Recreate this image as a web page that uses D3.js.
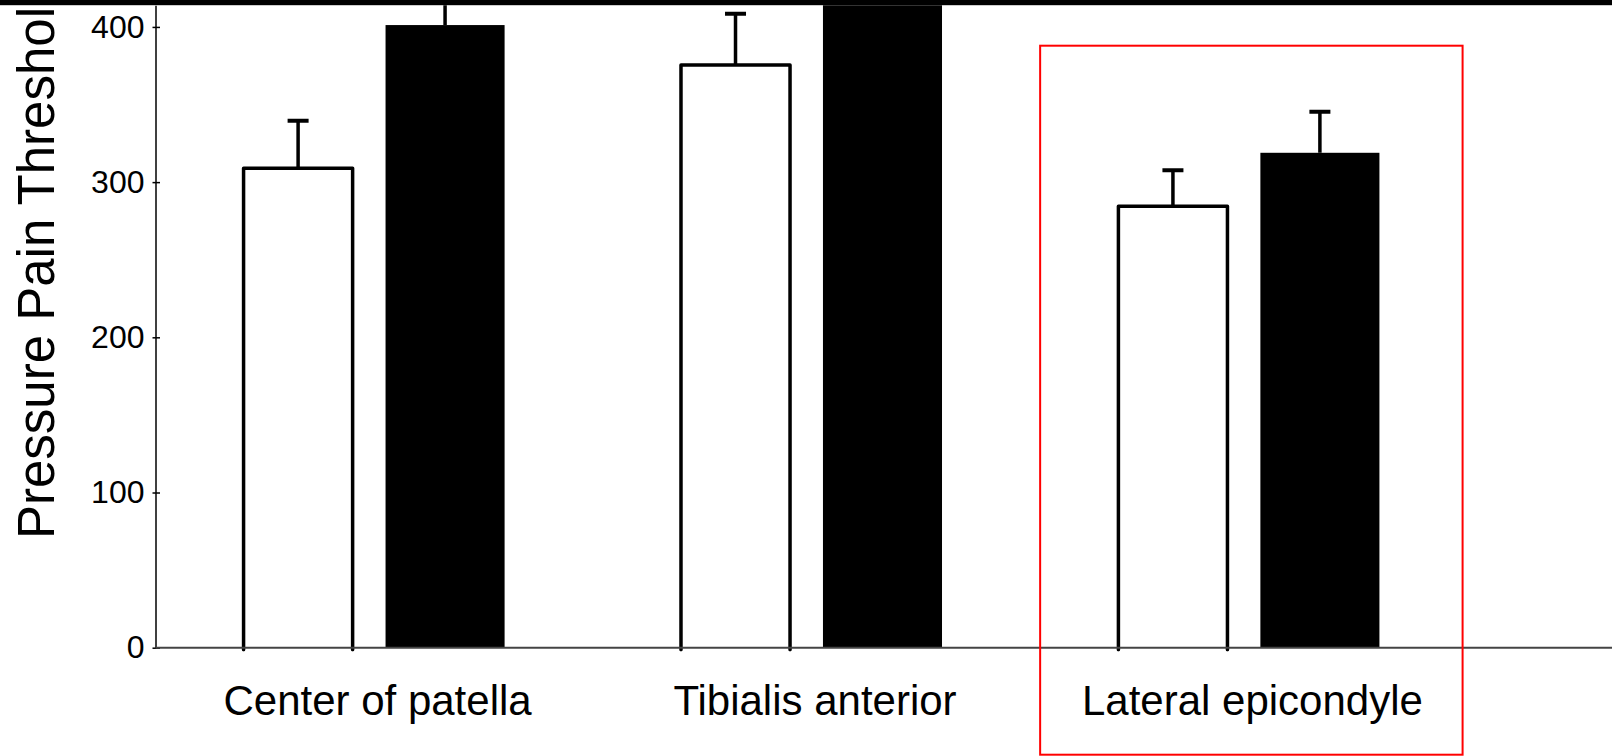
<!DOCTYPE html>
<html lang="en">
<head>
<meta charset="UTF-8">
<title>Pressure Pain Threshold</title>
<script src="https://d3js.org/d3.v7.min.js"></script>
<style>
  body { margin: 0; background: #fff; }
  svg { display: block; font-family: "Liberation Sans", Arial, sans-serif; }
</style>
</head>
<body>
<script>
// data (kPa)
const sites = ["Center of patella", "Tibialis anterior", "Lateral epicondyle"];
const groups = ["control", "patient"];
const controlMean = [309, 375.4, 284.4];
const controlSE = [30.6, 33.1, 23.2];
const patientMean = [401.2, 460, 318.9];
const patientSE = [30, 35, 26.5];
const yTicks = [0, 100, 200, 300, 400];
const yLabel = "Pressure Pain Threshold (kPa)";
const highlighted = "Lateral epicondyle";

const W = 1612, H = 756;
const axisX = 155.5;
const y0 = 647.7;

const svg = d3.select("body").append("svg")
    .attr("width", W)
    .attr("height", H);

// the figure is cropped at the top, the scale only reaches ~414
const y = d3.scaleLinear().domain([0, 414]).range([y0, 5.2]);

const x0 = d3.scaleBand()
    .domain(sites)
    .range([axisX, 1462.5])
    .paddingInner(0.328)
    .paddingOuter(0.158);

const x1 = d3.scaleBand()
    .domain(groups)
    .range([0, x0.bandwidth()])
    .paddingInner(0.19)
    .paddingOuter(0.095);

const rows = [];
sites.forEach((s, i) => {
    rows.push({ site: s, group: "control", mean: controlMean[i], se: controlSE[i] });
    rows.push({ site: s, group: "patient", mean: patientMean[i], se: patientSE[i] });
});

svg.append("defs").append("clipPath").attr("id", "plot")
    .append("rect")
    .attr("x", axisX).attr("y", y(414))
    .attr("width", W - axisX).attr("height", y0 - y(414) + 4);

const plot = svg.append("g").attr("clip-path", "url(#plot)");

const cx = d => x0(d.site) + x1(d.group) + x1.bandwidth() / 2;

// error bars (drawn first so the black bars cover the stems)
const eb = plot.selectAll("g.err").data(rows).enter().append("g").attr("class", "err");
eb.append("line")
    .attr("x1", cx).attr("x2", cx)
    .attr("y1", d => y(d.mean)).attr("y2", d => y(d.mean + d.se))
    .attr("stroke", "#000").attr("stroke-width", 3.5);
eb.append("line")
    .attr("x1", d => cx(d) - 10.5).attr("x2", d => cx(d) + 10.5)
    .attr("y1", d => y(d.mean + d.se)).attr("y2", d => y(d.mean + d.se))
    .attr("stroke", "#000").attr("stroke-width", 4);

// patient bars: solid black
plot.selectAll("rect.patient").data(rows.filter(d => d.group === "patient")).enter()
    .append("rect")
    .attr("class", "patient")
    .attr("x", d => x0(d.site) + x1(d.group))
    .attr("width", x1.bandwidth())
    .attr("y", d => y(d.mean))
    .attr("height", d => y0 - y(d.mean))
    .attr("fill", "#000");

// control bars: open, outlined (no bottom edge)
const wInset = 5;
plot.selectAll("path.control").data(rows.filter(d => d.group === "control")).enter()
    .append("path")
    .attr("class", "control")
    .attr("d", d => {
        const l = x0(d.site) + x1(d.group) + wInset;
        const r = l + x1.bandwidth() - 2 * wInset;
        const p = d3.path();
        p.moveTo(l, y0 + 2);
        p.lineTo(l, y(d.mean));
        p.lineTo(r, y(d.mean));
        p.lineTo(r, y0 + 2);
        return p.toString();
    })
    .attr("fill", "none")
    .attr("stroke", "#000")
    .attr("stroke-width", 3.5)
    .attr("stroke-linejoin", "round")
    .attr("stroke-linecap", "round");

// y axis
const yAxis = svg.append("g")
    .attr("transform", `translate(${axisX},0)`)
    .call(d3.axisLeft(y).tickValues(yTicks).tickSizeInner(3).tickSizeOuter(0).tickPadding(9));
yAxis.select(".domain").attr("stroke", "#000").attr("stroke-width", 1.5);
yAxis.selectAll(".tick line").attr("x2", 4.5).attr("x1", -3).attr("stroke-width", 1.5);
yAxis.selectAll(".tick text")
    .attr("x", -11)
    .attr("font-size", 32)
    .attr("font-family", "'Liberation Sans', Arial, sans-serif")
    .attr("fill", "#000");

// x axis line
svg.append("line")
    .attr("x1", axisX).attr("x2", W)
    .attr("y1", y0).attr("y2", y0)
    .attr("stroke", "#444").attr("stroke-width", 2);

// category labels
svg.selectAll("text.cat").data(sites).enter().append("text")
    .attr("class", "cat")
    .attr("x", d => x0(d) + x0.bandwidth() / 2 + 6)
    .attr("y", 715)
    .attr("text-anchor", "middle")
    .attr("font-size", 42)
    .attr("fill", "#000")
    .text(d => d);

// y axis title, runs off the top like the source
svg.append("text")
    .attr("transform", "translate(53.5,539) rotate(-90)")
    .attr("font-size", 51)
    .attr("fill", "#000")
    .text(yLabel);

// black band at the cropped top edge
svg.append("rect")
    .attr("x", 0).attr("y", 0)
    .attr("width", W).attr("height", y(414))
    .attr("fill", "#000");

// red highlight box round one site
svg.append("rect")
    .attr("x", x0(highlighted) - 59.3)
    .attr("y", 45.7)
    .attr("width", x0.bandwidth() + 128.5)
    .attr("height", 709)
    .attr("fill", "none")
    .attr("stroke", "#ff0000")
    .attr("stroke-width", 2);
</script>
</body>
</html>
